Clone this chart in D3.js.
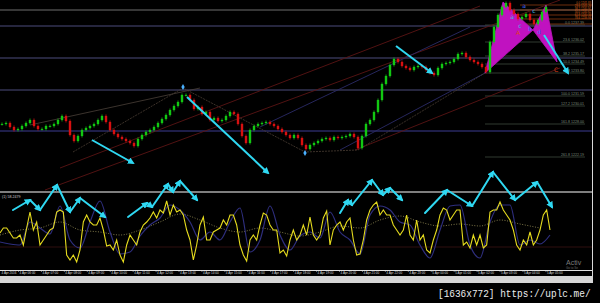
<!DOCTYPE html>
<html><head><meta charset="utf-8">
<script src="https://cdn.jsdelivr.net/npm/d3@7"></script>
<style>html,body{margin:0;padding:0;background:#000;overflow:hidden}</style>
</head><body><svg id="c" width="600" height="303"></svg>
<script>
// ---------- DATA ----------
// candle closes (open = previous close)
const candleClose = [76,77,73,70,71,74,77,80,74,71,71,74,74,76,80,84,79,65,59,64,70,72,74,76,80,84,78,70,66,63,61,59,57,54,61,65,68,70,73,77,81,85,90,94,98,105,105,100,91,93,86,88,80,82,79,80,84,88,86,76,64,57,70,74,76,77,78,76,74,71,68,65,62,65,62,55,51,55,57,59,61,62,60,63,62,63,64,66,63,52,64,76,80,88,100,116,124,135,141,138,134,132,130,133,134,133,130,127,125,132,136,137,138,141,146,147,143,140,138,136,133,128,158,173,185,193,197,190,186,181,183,186,180,176,180,188,193];
// oscillator main line
const oscMain = [37,42,42,37,32,32,35,25,42,58,40,48,25,30,35,40,42,58,60,58,15,10,15,8,20,48,55,48,45,45,52,40,24,25,20,30,15,8,25,35,30,25,38,45,48,52,58,52,60,57,69,55,65,58,60,55,40,30,10,25,45,53,30,30,38,40,42,50,45,55,55,45,25,15,9,30,35,30,45,57,55,45,40,40,17,20,14,30,40,30,35,45,35,53,35,30,35,52,59,25,40,45,48,40,48,52,30,15,16,30,50,60,65,68,55,60,55,55,45,40,35,40,55,35,30,50,30,35,20,17,30,40,55,62,60,50,55,60,60,25,28,22,35,25,35,22,25,58,60,60,68,60,55,50,40,25,20,30,25,38,25,30,40,55,60,40];
// oscillator slow (blue) line
const oscSlow = [28,26,25,48,42,36,64,30,22,48,69,38,16,18,34,45,52,65,60,48,30,38,30,48,62,18,30,64,35,20,34,38,32,58,38,30,16,55,64,60,48,45,25,12,40,64,65,25,12,48,65,65,25,30,26,35];
// oscillator signal (dotted) line
const oscSignal = [35,40,42,48,40,38,35,40,48,56,50,42,38,42,38,34,38,44,42,50,54,48,44,46,44,50,46,42];
const oscLevel = [23];
// horizontal price levels
const levels = [190,174,142,110,69];
// fibonacci levels
const fibValues = [175,158,144,136,127,104,94,76,43];
const fibLabels = ["0.0 1237.39","23.6 1236.02","38.2 1235.17","50.0 1234.49","61.8 1233.80","100.0 1231.59","127.2 1230.01","161.8 1228.00","261.8 1222.19"];
const orangeValues = [195,190,185,181,176];
const orangeLabelValues = [197,194,191,188,185,182];
const orangeLabels = ["0.0 1241.83","23.6 1241.26","38.2 1240.91","50.0 1240.62","61.8 1240.34","78.6 1239.93"];
// time axis
const timeLabels = ["4 Apr 2016","4 Apr 06:00","4 Apr 07:00","4 Apr 08:00","4 Apr 09:00","4 Apr 10:00","4 Apr 11:00","4 Apr 12:00","4 Apr 13:00","4 Apr 14:00","4 Apr 15:00","4 Apr 16:00","4 Apr 17:00","4 Apr 18:00","4 Apr 19:00","4 Apr 20:00","4 Apr 21:00","4 Apr 22:00","4 Apr 23:00","5 Apr 00:00","5 Apr 01:00","5 Apr 02:00","5 Apr 03:00","5 Apr 04:00","5 Apr 05:00"];
// annotations (candle index, price)
const priceArrows = [[[22.5,60],[32.75,37]],[[46.25,103],[66.5,27]],[[98.5,154],[107.5,127]],[[135.5,165],[141.5,127]]];
const swingMarks = [[45.25,113],[75.75,47]];
const redLines = [[[14.5,32],[119.5,194]],[[10.75,10],[139.5,200]],[[88.25,50],[139.5,132]]];
const blueLines = [[[64.5,73],[117,173]],[[84.5,50],[120.75,127]]];
const zigzag = [[17.75,48],[45.25,112],[75.75,48],[89,50],[120.75,127]];
const channel = [[7,75],[49.5,112]];
const harmonic1 = [[120.75,127],[125.25,198],[132.75,170]];
const harmonic2 = [[132.75,170],[136,195],[138.75,138]];
const harmonicText = [["a",127.5,181,"c"],["a",130.5,192,"b"],["c",129.5,172,"c"],["A",129,165,"r"],["b",132,169,"b"],["c",133,187,"c"],["d",134.25,166,"b"],["C",138.5,128,"r"]];
// oscillator arrows (osc index, osc value)
const oscArrows = [
 [[3.9,60],[9,70],[12,60],[17.1,85],[21,58],[24,72],[31.5,53]],
 [[38.4,53],[44.1,67],[45.6,63],[50.4,86],[51.9,78],[54,89],[59.1,70]],
 [[102,57],[104.4,70],[105.6,65],[111.6,90],[114.9,75],[117,82],[120.6,70]],
 [[127.5,57],[134.1,80],[141.6,64],[147.9,98],[154.5,70],[161.1,88],[165.6,63]]
];

// ---------- SCALES ----------
const svg = d3.select('#c');
svg.append('rect').attr('width',600).attr('height',303).attr('fill','#000');
const xC = d3.scaleLinear().domain([0, candleClose.length-1]).range([2,546]);
const yP = d3.scaleLinear().domain([17,200]).range([183,0]);
const xO = d3.scaleLinear().domain([0, oscMain.length-1]).range([0,550]);
const xB = d3.scaleLinear().domain([0, oscSlow.length-1]).range([0,550]);
const xD = d3.scaleLinear().domain([0, oscSignal.length-1]).range([0,540]);
const yO = d3.scaleLinear().domain([0,78]).range([270,192]);
const xT = d3.scaleTime().domain([new Date(2016,3,4,5,12,54), new Date(2016,3,5,7,22,55)]).range([0,600]);

const CY = '#2fd8f2';
const defs = svg.append('defs');
defs.append('marker').attr('id','ah').attr('markerUnits','userSpaceOnUse')
  .attr('markerWidth',7).attr('markerHeight',7).attr('refX',5).attr('refY',3.5).attr('orient','auto')
  .append('path').attr('d','M0,0 L7,3.5 L0,7 Z').attr('fill',CY);

const gMain = svg.append('g');
// levels
gMain.selectAll('line.lvl').data(levels).join('line')
  .attr('x1',0).attr('x2',592).attr('y1',d=>yP(d)).attr('y2',d=>yP(d))
  .attr('stroke',(d,i)=>i===0?'#6e6e6e':(i===4?'#3d3d92':'#4c4c7c')).attr('stroke-width',1);
// fib lines
gMain.selectAll('line.fib').data(fibValues).join('line')
  .attr('x1',xC(120.75)).attr('x2',xC(145.75)).attr('y1',d=>yP(d)).attr('y2',d=>yP(d))
  .attr('stroke','#3c4a3c').attr('stroke-width',0.8);
gMain.selectAll('text.fib').data(fibValues).join('text')
  .attr('x',xC(145.5)).attr('y',d=>yP(d)-0.8).attr('text-anchor','end')
  .attr('font-family','Liberation Sans').attr('font-size',3.6).attr('fill','#7d8a7d')
  .text((d,i)=>fibLabels[i]);
// orange levels
gMain.selectAll('line.or').data(orangeValues).join('line')
  .attr('x1',xC(129.5)).attr('x2',592).attr('y1',d=>yP(d)).attr('y2',d=>yP(d))
  .attr('stroke','#8a3a10').attr('stroke-width',0.8);
gMain.selectAll('text.or').data(orangeLabelValues).join('text')
  .attr('x',591).attr('y',d=>yP(d)+1).attr('text-anchor','end')
  .attr('font-family','Liberation Sans').attr('font-size',2.8).attr('fill','#d8601c')
  .text((d,i)=>orangeLabels[i]);
// trend lines
const ln = d3.line().x(d=>xC(d[0])).y(d=>yP(d[1]));
redLines.forEach(p=>gMain.append('path').attr('d',ln(p)).attr('stroke','#5a1414').attr('stroke-width',0.9).attr('fill','none'));
blueLines.forEach(p=>gMain.append('path').attr('d',ln(p)).attr('stroke','#2a2a66').attr('stroke-width',0.9).attr('fill','none'));
gMain.append('path').attr('d',ln(zigzag)).attr('stroke','#4a3e34').attr('stroke-width',0.8).attr('stroke-dasharray','2,1').attr('fill','none');
gMain.append('path').attr('d',ln(channel)).attr('stroke','#4a4038').attr('stroke-width',0.8).attr('fill','none');
// harmonic pattern
[harmonic1,harmonic2].forEach(p=>gMain.append('path').attr('d',ln(p)+'Z').attr('fill','#c012c0').attr('stroke','#c012c0').attr('stroke-width',0.8));
// candles
const cg = gMain.append('g');
candleClose.forEach((c,i)=>{
  const o = i? candleClose[i-1] : c;
  const up = c>=o;
  const col = up ? '#12c812' : '#d81010';
  const y1 = yP(Math.max(o,c)), y2 = yP(Math.min(o,c));
  cg.append('line').attr('x1',xC(i)).attr('x2',xC(i)).attr('y1',y1-1.5).attr('y2',y2+1.5).attr('stroke',col).attr('stroke-width',0.8);
  cg.append('rect').attr('x',xC(i)-1.2).attr('width',2.4).attr('y',y1).attr('height',Math.max(0.9,y2-y1)).attr('fill',col);
});
// harmonic letters
const tc = {c:'#3ab8e8', b:'#3f6cff', r:'#e0401a'};
gMain.selectAll('text.h').data(harmonicText).join('text')
  .attr('x',d=>xC(d[1])).attr('y',d=>yP(d[2])).attr('text-anchor','middle')
  .attr('font-family','DejaVu Sans').attr('font-size',6).attr('fill',d=>tc[d[3]]).text(d=>d[0]);
// swing marks
gMain.selectAll('path.sw').data(swingMarks).join('path')
  .attr('transform',d=>`translate(${xC(d[0])},${yP(d[1])})`)
  .attr('d',d3.symbol(d3.symbolDiamond,10)).attr('fill','#4ab0ff');
// price arrows
priceArrows.forEach(p=>gMain.append('path').attr('d',ln(p)).attr('stroke',CY).attr('stroke-width',2)
  .attr('fill','none').attr('marker-end','url(#ah)'));

// ---------- OSCILLATOR ----------
const gOsc = svg.append('g');
svg.insert('line','g').attr('x1',0).attr('x2',592).attr('y1',192).attr('y2',192).attr('stroke','#a8a8a8').attr('stroke-width',1.4);
gOsc.selectAll('line.ol').data(oscLevel).join('line').attr('x1',0).attr('x2',592)
  .attr('y1',d=>yO(d)).attr('y2',d=>yO(d)).attr('stroke','#3a1212').attr('stroke-width',0.8);
gOsc.append('path').datum(oscSignal).attr('d',d3.line().x((d,i)=>xD(i)).y(d=>yO(d)).curve(d3.curveMonotoneX))
  .attr('fill','none').attr('stroke','#8c8450').attr('stroke-width',0.9).attr('stroke-dasharray','1,1.6');
gOsc.append('path').datum(oscSlow).attr('d',d3.line().x((d,i)=>xB(i)).y(d=>yO(d)).curve(d3.curveMonotoneX))
  .attr('fill','none').attr('stroke','#2e2e7e').attr('stroke-width',1.2);
gOsc.append('path').datum(oscMain).attr('d',d3.line().x((d,i)=>xO(i)).y(d=>yO(d)))
  .attr('fill','none').attr('stroke','#e6dc1e').attr('stroke-width',1.1);
const lo = d3.line().x(d=>xO(d[0])).y(d=>yO(d[1]));
oscArrows.forEach(g=>{
  for(let i=0;i<g.length-1;i++){
    gOsc.append('path').attr('d',lo([g[i],g[i+1]])).attr('stroke',CY).attr('stroke-width',2)
      .attr('fill','none').attr('stroke-linecap','round').attr('marker-end','url(#ah)');
  }
});
svg.append('text').attr('x',2).attr('y',198).attr('font-family','Liberation Sans').attr('font-size',3.6).attr('fill','#cfcfcf').text('(1) 58.2479');

// ---------- TIME AXIS ----------
const tickDates = timeLabels.map((_,i)=>new Date(2016,3,4,5+i));
const ax = svg.append('g').attr('transform','translate(0,270)')
  .call(d3.axisBottom(xT).tickValues(tickDates).tickFormat((d,i)=>timeLabels[i]).tickSizeInner(1.5).tickSizeOuter(0));
ax.select('.domain').attr('stroke','#e0e0e0').attr('d','M0,0.5H592');
ax.selectAll('.tick line').attr('stroke','#e0e0e0');
ax.selectAll('.tick text').attr('fill','#dcdcdc').attr('font-family','Liberation Sans').attr('font-size',3.1)
  .attr('text-anchor','start').attr('x',(d,i)=> i===0 ? 1 - xT(d) : 1).attr('y',2).attr('dy','0.71em');
svg.append('rect').attr('x',0).attr('y',276).attr('width',593).attr('height',7).attr('fill','#d6d6d6');
svg.append('line').attr('x1',592.5).attr('x2',592.5).attr('y1',0).attr('y2',276).attr('stroke','#d8d8d8').attr('stroke-width',1);
svg.append('text').attr('x',566).attr('y',265).attr('font-family','Liberation Sans').attr('font-size',7).attr('fill','#7a7a7a').text('Activ');
svg.append('text').attr('x',566).attr('y',269).attr('font-family','Liberation Sans').attr('font-size',3).attr('fill','#6a6a6a').text('Go to Se');
svg.append('text').attr('transform','translate(438,297) scale(0.82,1)').attr('font-family','Liberation Mono').attr('font-size',11.5)
  .attr('fill','#ececec').text('[1636x772] https://uplc.me/');
</script></body></html>
